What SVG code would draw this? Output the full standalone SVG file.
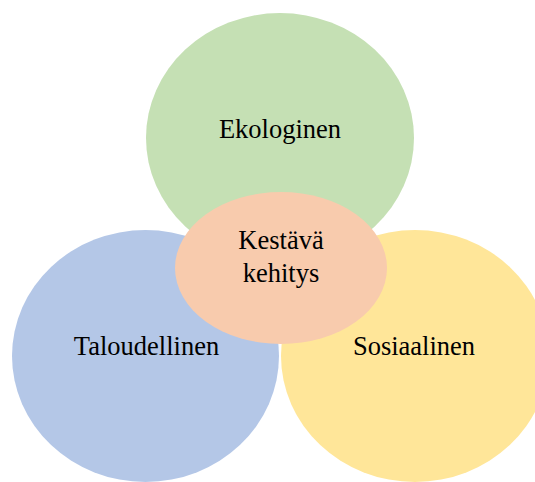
<svg xmlns="http://www.w3.org/2000/svg" width="535" height="482" viewBox="0 0 535 482">
<style>
text{font-family:"Liberation Serif","Times New Roman",serif;font-size:26.5px;fill:#000;text-anchor:middle}
</style>
<rect width="535" height="482" fill="#fff"/>
<g id="ekologinen"><ellipse cx="280" cy="138" rx="134" ry="125" fill="#c5e0b4"/><text x="280" y="138">Ekologinen</text></g>
<g id="taloudellinen"><ellipse cx="145.5" cy="356" rx="133.5" ry="126" fill="#b4c7e7"/><text x="146.5" y="355">Taloudellinen</text></g>
<g id="sosiaalinen"><ellipse cx="415" cy="356" rx="134" ry="126" fill="#ffe699"/><text x="414" y="355">Sosiaalinen</text></g>
<g id="kestava"><ellipse cx="281" cy="268" rx="106" ry="76" fill="#f8cbad"/><text x="281" y="249">Kestävä</text><text x="281" y="282">kehitys</text></g>
<g id="connectors"/>
</svg>
